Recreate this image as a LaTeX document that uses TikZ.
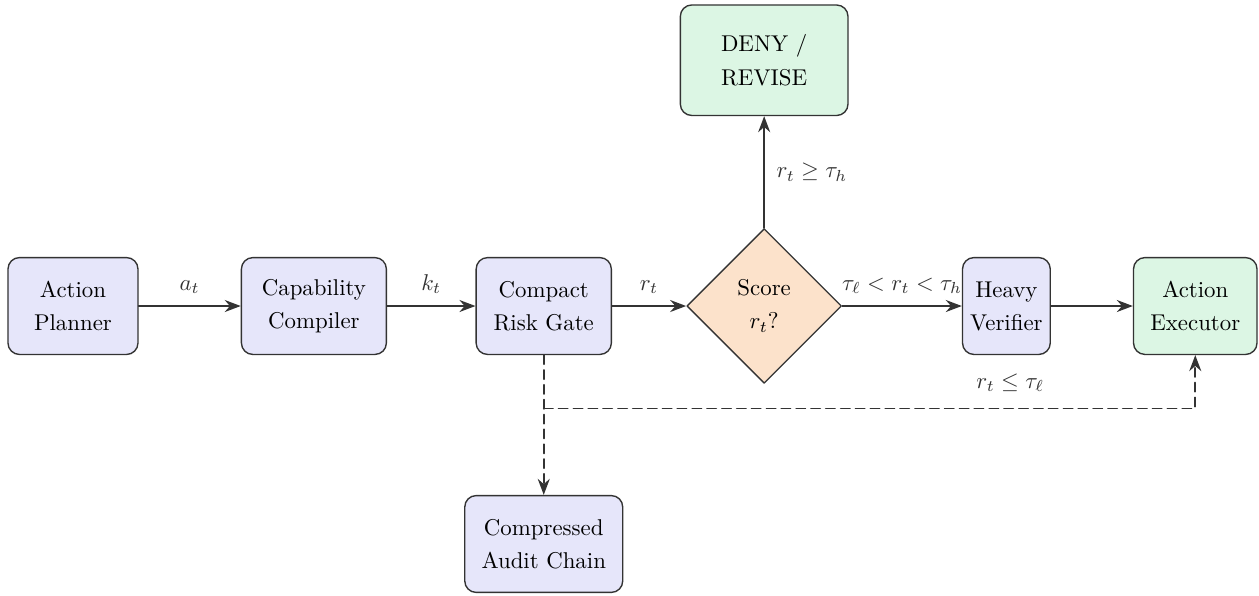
\documentclass[tikz,border=0pt]{standalone}
\usepackage{amsmath, amssymb}
\usetikzlibrary{arrows.meta, calc, positioning, shapes.geometric}
\definecolor{ink}{HTML}{333333}
\definecolor{fillblue}{HTML}{E6E6FA}
\definecolor{fillgreen}{HTML}{DCF6E4}
\definecolor{fillorange}{HTML}{FCE2CB}
\tikzset{
  >={Stealth[length=7pt]},
  every picture/.style={line cap=round, line join=round},
  stage/.style={draw=ink, semithick, fill=fillblue, rounded corners=5pt,
                minimum height=1.49cm, align=center, inner sep=4pt,
                font=\fontsize{10}{14.5}\selectfont},
  okstage/.style={stage, fill=fillgreen},
  decide/.style={diamond, draw=ink, semithick, fill=fillorange, aspect=1,
                 minimum size=2.38cm, inner sep=0pt, align=center,
                 font=\fontsize{10}{14.5}\selectfont},
  sig/.style={->, thick, ink},
  trail/.style={->, thick, ink, dash pattern=on 4pt off 2.5pt},
  u/.style={above, inner sep=5pt},
}

\begin{document}
\begin{tikzpicture}[node distance=1.4cm]
  \useasboundingbox (-1.123,-4.446) rectangle (18.246,4.708);
  % main row
  \node[stage, minimum width=2cm] (plan) {Action\\Planner};
  \node[stage, minimum width=2.23cm, right=1.57cm of plan] (cap) {Capability\\Compiler};
  \node[stage, minimum width=2.08cm, right=1.36cm of cap] (gate) {Compact\\Risk Gate};
  \node[decide, right=1.14cm of gate] (score) {Score\\$r_t$?};
  \node[stage, minimum width=1.35cm, inner xsep=2pt, right=1.84cm of score] (heavy) {Heavy\\Verifier};
  \node[okstage, minimum width=1.9cm, right=1.26cm of heavy] (exec) {Action\\Executor};
  % side boxes
  \node[okstage, minimum width=2.58cm, minimum height=1.7cm, above=1.72cm of score] (deny) {DENY /\\REVISE};
  \node[stage, minimum width=2.43cm, below=2.15cm of gate] (chain) {Compressed\\Audit Chain};
  \coordinate (split) at ($(gate.south)+(0,-0.82)$);
  % forward path
  \draw[sig] (plan) -- node[u] {$a_t$} (cap);
  \draw[sig] (cap) -- node[u] {$k_t$} (gate);
  \draw[sig] (gate) -- node[u] {$r_t$} (score);
  \draw[sig] (score) -- node[u] {$\tau_\ell < r_t < \tau_h$} (heavy);
  \draw[sig] (heavy) -- (exec);
  \draw[sig] (score) -- node[right, inner sep=5pt] {$r_t \geq \tau_h$} (deny);
  % audit / fast path
  \draw[trail] (gate.south) -- (chain.north);
  \draw[trail] (split) -| node[pos=0.358, above, inner sep=7pt] {$r_t \leq \tau_\ell$} (exec.south);
\end{tikzpicture}
\end{document}
